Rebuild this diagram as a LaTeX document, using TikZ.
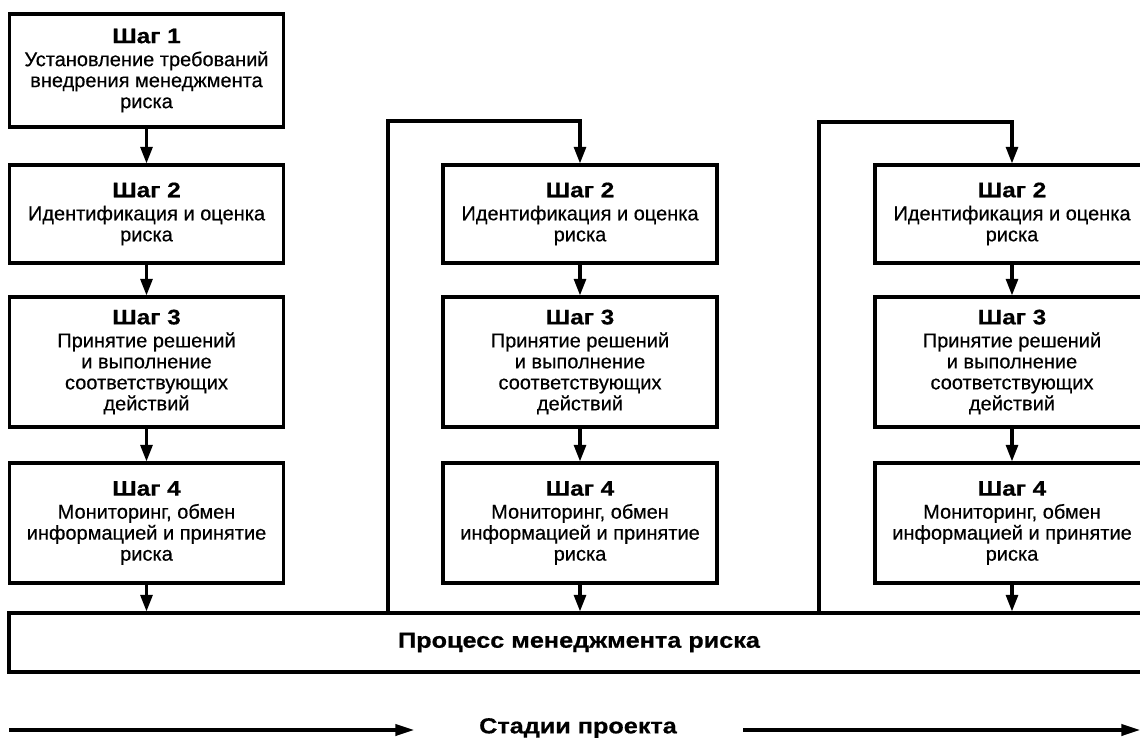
\documentclass[tikz,border=0pt]{standalone}
\usepackage{fontspec}
\setmainfont{Liberation Sans}
\newfontfamily\bodyf[FakeBold=0.4]{Liberation Sans}
\newfontfamily\headf[FakeStretch=1.16,FakeBold=0.6]{Liberation Sans Bold}
\newcommand\hdf{\headf\fontsize{15.75}{18}\selectfont}
\newcommand\bigf{\headf\fontsize{16.3}{18}\selectfont}
\usetikzlibrary{arrows.meta}
\tikzset{
  box/.style={draw, line width=2.3pt, rectangle, minimum width=205.5pt, inner sep=0pt,
    align=center, font=\bodyf\fontsize{15}{15.75}\selectfont},
  flow/.style={line width=2.3pt, -{Triangle[length=12.5pt,width=9pt]}},
  stage/.style={line width=2.3pt, -{Triangle[length=14pt,width=8.5pt]}},
  lbl/.style={font=\bigf, inner sep=0pt}
}
\begin{document}
\begin{tikzpicture}[x=0.75pt,y=-0.75pt]
\useasboundingbox (0,0) rectangle (1140,738);
\clip (0,0) rectangle (1140,738);
% column 1
\node[box, minimum height=84.75pt] (a1) at (146.5,70.5) {{\hdf Шаг 1}\\[1.5pt]Установление требований\\внедрения менеджмента\\риска};
\node[box, minimum height=73.5pt] (a2) at (146.5,214) {{\hdf Шаг 2}\\[1.5pt]Идентификация и оценка\\риска};
\node[box, minimum height=97.5pt] (a3) at (146.5,362) {{\hdf Шаг 3}\\[1.5pt]Принятие решений\\и выполнение\\соответствующих\\действий};
\node[box, minimum height=90pt] (a4) at (146.5,523) {{\hdf Шаг 4}\\[1.5pt]Мониторинг, обмен\\информацией и принятие\\риска};
% column 2
\node[box, minimum height=73.5pt] (b2) at (580,214) {{\hdf Шаг 2}\\[1.5pt]Идентификация и оценка\\риска};
\node[box, minimum height=97.5pt] (b3) at (580,362) {{\hdf Шаг 3}\\[1.5pt]Принятие решений\\и выполнение\\соответствующих\\действий};
\node[box, minimum height=90pt] (b4) at (580,523) {{\hdf Шаг 4}\\[1.5pt]Мониторинг, обмен\\информацией и принятие\\риска};
% column 3
\node[box, minimum height=73.5pt] (c2) at (1012,214) {{\hdf Шаг 2}\\[1.5pt]Идентификация и оценка\\риска};
\node[box, minimum height=97.5pt] (c3) at (1012,362) {{\hdf Шаг 3}\\[1.5pt]Принятие решений\\и выполнение\\соответствующих\\действий};
\node[box, minimum height=90pt] (c4) at (1012,523) {{\hdf Шаг 4}\\[1.5pt]Мониторинг, обмен\\информацией и принятие\\риска};
% process
\node[draw, line width=2.3pt, rectangle, minimum width=855pt, minimum height=44.25pt, inner sep=0pt, font=\bigf] (p) at (579,642.5) {Процесс менеджмента риска};
% arrows
\draw[flow] (a1) -- (a2);
\draw[flow] (a2) -- (a3);
\draw[flow] (a3) -- (a4);
\draw[flow] (a4) -- (p.north -| a4);
\draw[flow] (b2) -- (b3);
\draw[flow] (b3) -- (b4);
\draw[flow] (b4) -- (p.north -| b4);
\draw[flow] (c2) -- (c3);
\draw[flow] (c3) -- (c4);
\draw[flow] (c4) -- (p.north -| c4);
% loops
\coordinate (l2) at (388,121);
\coordinate (l3) at (819,122);
\draw[flow] (p.north -| l2) -- (l2) -| (b2.north);
\draw[flow] (p.north -| l3) -- (l3) -| (c2.north);
% stages
\node[lbl] (st) at (578,728) {Стадии проекта};
\coordinate (s1) at (9,730);
\coordinate (e1) at (414,730);
\coordinate (s2) at (743,730);
\coordinate (e2) at (1140,730);
\draw[stage] (s1) -- (e1);
\draw[stage] (s2) -- (e2);
\end{tikzpicture}
\end{document}
